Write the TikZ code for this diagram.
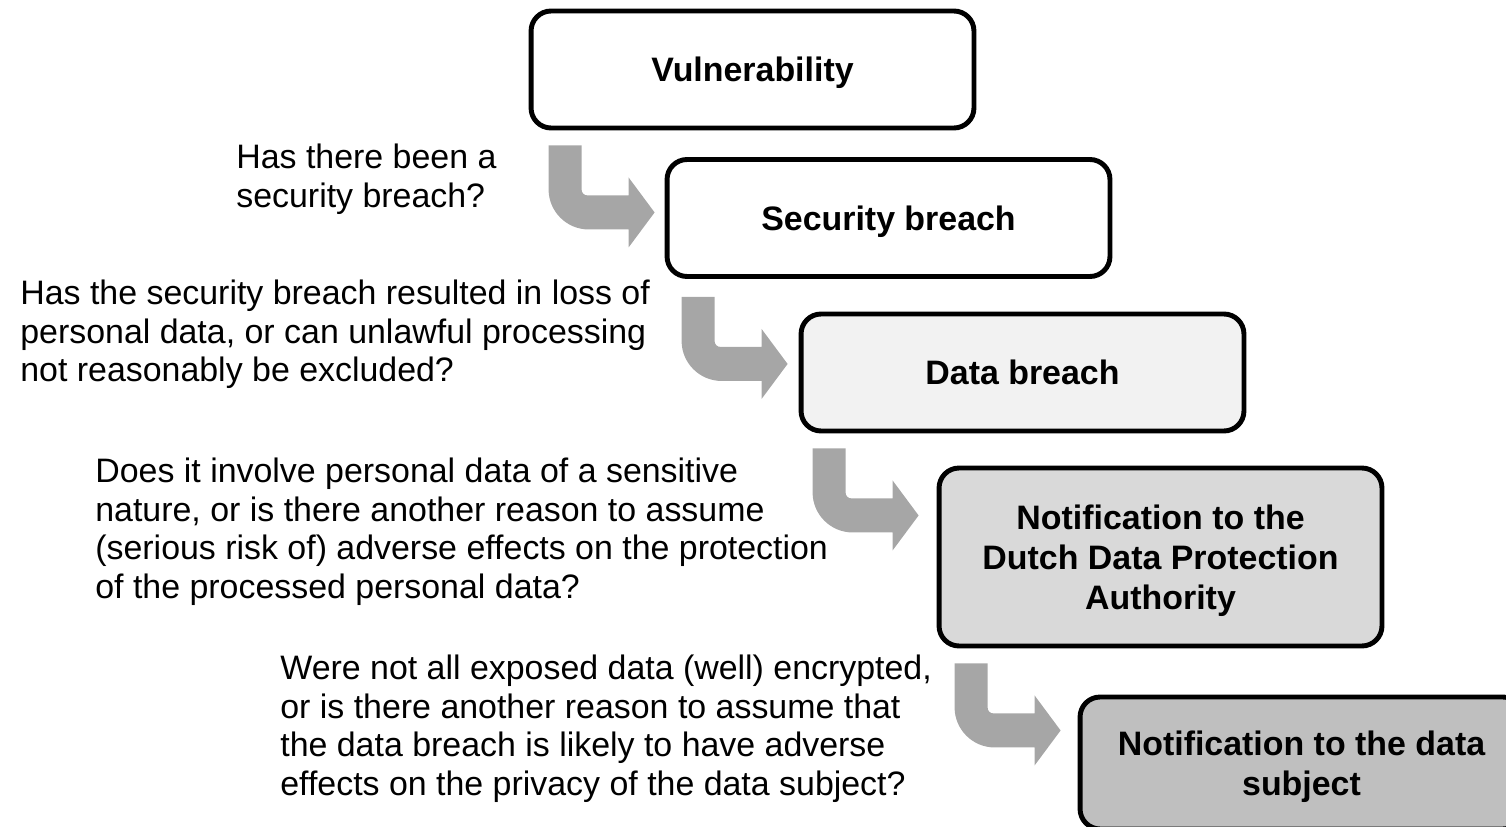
\documentclass[tikz,border=0pt]{standalone}
\usepackage{fontspec}
\setmainfont{Liberation Sans}
\usetikzlibrary{calc}

\definecolor{arrowgray}{HTML}{A6A6A6}
\definecolor{lightfill}{HTML}{F2F2F2}
\definecolor{midfill}{HTML}{D9D9D9}
\definecolor{darkfill}{HTML}{BFBFBF}

\tikzset{
  box/.style={draw, line width=2.8pt, rounded corners=0.4cm, minimum width=8.86cm,
    minimum height=2.34cm, align=center, text depth=0pt,
    font=\fontsize{19.3}{22.7}\selectfont\bfseries},
  question/.style={anchor=north west, align=left, inner sep=0pt,
    font=\fontsize{19.3}{21.9}\selectfont},
  pics/bentarrow/.style={code={
    \fill[arrowgray] (0,0) -- (33,0) -- (33,44)
      .. controls (33,47.5) and (35.5,50) .. (39,50)
      -- (80,50) -- (80,32) -- (106,67) -- (80,102) -- (80,84) -- (40,84)
      .. controls (18,84) and (0,66) .. (0,44) -- cycle;
  }}
}

\begin{document}
\begin{tikzpicture}[x=0.02cm, y=-0.02cm]
\useasboundingbox (0,0) rectangle (1506,827);
\clip (0,0) rectangle (1506,827);

% Steps
\node[box]                                   (vul)  at (752.5,69.5)  {Vulnerability};
\node[box]                                   (sec)  at (888.5,218)   {Security breach};
\node[box, fill=lightfill]                   (data) at (1022.5,372.5) {Data breach};
\node[box, fill=midfill, minimum height=3.56cm]  (dpa)  at (1160.5,557) {Notification to the\\Dutch Data Protection\\Authority};
\node[box, fill=darkfill, minimum height=2.64cm] (sub) at (1301.5,763) {Notification to the data\\subject};

% Questions
\node[question] (q1) at (236,144) {Has there been a\\security breach?};
\node[question] (q2) at (20,280) {Has the security breach resulted in loss of\\personal data, or can unlawful processing\\not reasonably be excluded?};
\node[question] (q3) at (95,458) {Does it involve personal data of a sensitive\\nature, or is there another reason to assume\\(serious risk of) adverse effects on the protection\\of the processed personal data?};
\node[question] (q4) at (280,655) {Were not all exposed data (well) encrypted,\\or is there another reason to assume that\\the data breach is likely to have adverse\\effects on the privacy of the data subject?};

% Arrows between the steps
\foreach \s/\dx/\dy in {vul/20/15, sec/17/18, data/14/15, dpa/18/15}
  \pic at ($(\s.south west)+(\dx,\dy)$) {bentarrow};

\end{tikzpicture}
\end{document}
